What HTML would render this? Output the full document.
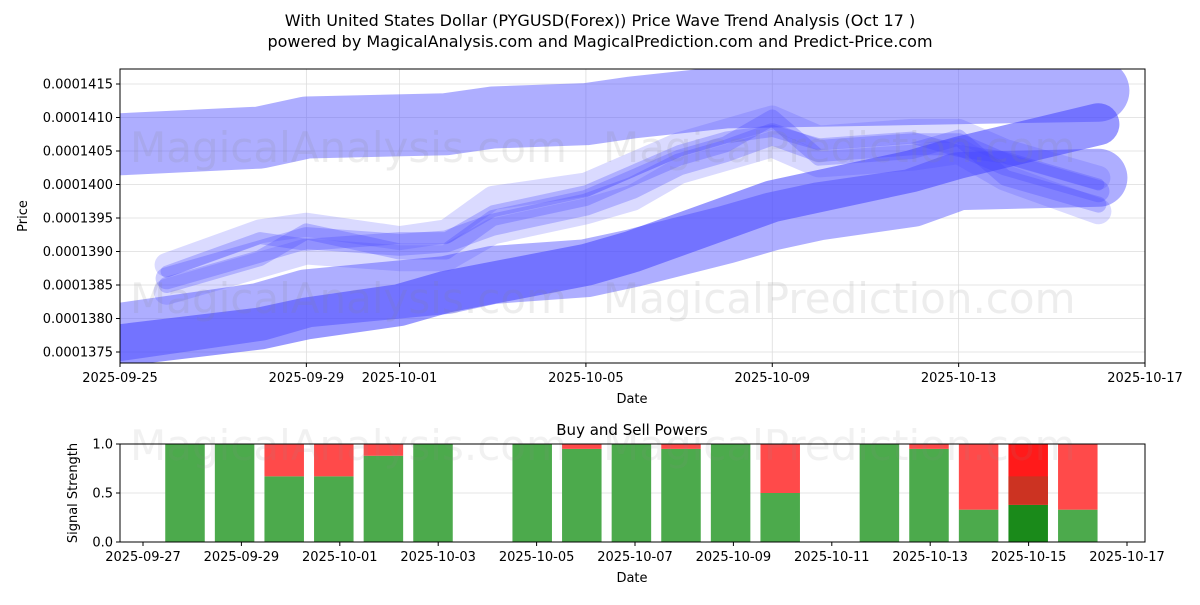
<!DOCTYPE html>
<html><head><meta charset="utf-8"><style>
body{margin:0;background:#fff;font-family:"Liberation Sans","DejaVu Sans",sans-serif}
svg text{font-family:"DejaVu Sans","Liberation Sans",sans-serif}
</style></head><body>
<svg id="c" width="1200" height="600" xmlns="http://www.w3.org/2000/svg">
<text x="600" y="26" text-anchor="middle" font-size="16">With United States Dollar (PYGUSD(Forex)) Price Wave Trend Analysis (Oct 17 )</text>
<text x="600" y="47" text-anchor="middle" font-size="16">powered by MagicalAnalysis.com and MagicalPrediction.com and Predict-Price.com</text>
</svg>
<script>
const tickDates=["2025-09-25","2025-09-29","2025-10-01","2025-10-05","2025-10-09","2025-10-13","2025-10-17"];
const priceTicks=[0.0001375,0.000138,0.0001385,0.000139,0.0001395,0.00014,0.0001405,0.000141,0.0001415];
const bandADates=["2025-09-25","2025-09-28","2025-09-29","2025-10-02","2025-10-03","2025-10-05","2025-10-06","2025-10-08","2025-10-16"];
const bandAVals=[0.0001406,0.0001407,0.00014085,0.0001409,0.000141,0.00014105,0.00014115,0.0001413,0.0001414];
const bandBDates=["2025-09-25","2025-09-28","2025-09-29","2025-10-02","2025-10-03","2025-10-05","2025-10-06","2025-10-08","2025-10-09","2025-10-10","2025-10-12","2025-10-13","2025-10-16"];
const bandBVals=[0.0001378,0.0001381,0.0001383,0.0001385,0.00013865,0.00013875,0.0001389,0.00013925,0.00013945,0.0001396,0.0001398,0.00014005,0.0001401];
const bandCDates=["2025-09-25","2025-09-28","2025-09-29","2025-10-01","2025-10-02","2025-10-05","2025-10-06","2025-10-08","2025-10-09","2025-10-12","2025-10-13","2025-10-16"];
const bandCVals=[0.0001376,0.00013785,0.000138,0.0001382,0.0001384,0.0001388,0.000139,0.0001395,0.00013975,0.0001402,0.0001404,0.0001409];
const waveDates=["2025-09-26","2025-09-28","2025-09-29","2025-10-01","2025-10-02","2025-10-03","2025-10-05","2025-10-06","2025-10-07","2025-10-08","2025-10-09","2025-10-10","2025-10-12","2025-10-13","2025-10-14","2025-10-16"];
const wave1=[0.0001386,0.000139,0.0001392,0.0001391,0.00013915,0.0001394,0.0001397,0.00013995,0.0001403,0.0001405,0.00014075,0.0001405,0.0001406,0.0001406,0.0001403,0.0001399];
const wave2=[0.0001385,0.0001389,0.0001393,0.000139,0.000139,0.0001395,0.0001398,0.0001401,0.0001404,0.0001406,0.000141,0.0001404,0.0001405,0.0001407,0.0001401,0.0001397];
const wave3=[0.0001387,0.0001392,0.0001391,0.0001392,0.0001392,0.0001396,0.0001399,0.0001402,0.0001405,0.0001407,0.0001408,0.0001406,0.0001407,0.0001405,0.0001404,0.00014];
const wave4=[0.0001384,0.0001388,0.000139,0.0001389,0.0001389,0.0001393,0.0001396,0.0001398,0.0001402,0.0001404,0.0001406,0.0001403,0.0001404,0.0001405,0.0001401,0.0001396];
const wave5=[0.0001388,0.0001393,0.0001394,0.0001392,0.0001393,0.0001398,0.00014,0.0001403,0.0001406,0.0001408,0.000141,0.0001407,0.0001408,0.0001408,0.0001405,0.0001401];
const barDates=["2025-09-28","2025-09-29","2025-09-30","2025-10-01","2025-10-02","2025-10-03","2025-10-05","2025-10-06","2025-10-07","2025-10-08","2025-10-09","2025-10-10","2025-10-12","2025-10-13","2025-10-14","2025-10-15","2025-10-16"];
const buyVals=[1,1,0.67,0.67,0.88,1,1,0.95,1,0.95,1,0.5,1,0.95,0.33,0.38,0.33];
const barTicks=["2025-09-27","2025-09-29","2025-10-01","2025-10-03","2025-10-05","2025-10-07","2025-10-09","2025-10-11","2025-10-13","2025-10-15","2025-10-17"];
const sigTicks=[0,0.5,1];

const NS="http://www.w3.org/2000/svg",svg=document.getElementById('c');
const day=d=>Date.parse(d)/864e5;
const X0=120,X1=1145,Y0=69,Y1=363;
const xT=d=>X0+(day(d)-day("2025-09-25"))/22*(X1-X0);
const yT=v=>84+(0.0001415-v)/4e-6*268;
const BX0=120,BX1=1145,BY0=444,BY1=542;
const xB=d=>143+(day(d)-day("2025-09-27"))/20*(1127-143);
const xBar=d=>185+(day(d)-day("2025-09-28"))*49.6;
const yB=v=>BY1-v*(BY1-BY0);
function el(t,a,p){const e=document.createElementNS(NS,t);for(const k in a)e.setAttribute(k,a[k]);(p||svg).appendChild(e);return e;}
for(const d of tickDates){const x=xT(d);
 const g=el('line',{x1:x,x2:x,y1:Y0,y2:Y1,stroke:'#ddd','stroke-width':0.8});
 
 el('line',{x1:x,x2:x,y1:Y1,y2:Y1+4,stroke:'#000'});
 const t=el('text',{x:x,y:Y1+19,'text-anchor':'middle','font-size':13});t.textContent=d;
 }
for(const v of priceTicks){const y=yT(v);
 el('line',{x1:X0,x2:X1,y1:y,y2:y,stroke:'#ddd','stroke-width':0.8});
 el('line',{x1:X0-4,x2:X0,y1:y,y2:y,stroke:'#000'});
 const t=el('text',{x:X0-7,y:y+4.5,'text-anchor':'end','font-size':13});t.textContent=v.toFixed(7);
 }
const wm=[["MagicalAnalysis.com",130,162],["MagicalPrediction.com",603,162],["MagicalAnalysis.com",130,313],["MagicalPrediction.com",603,313],["MagicalAnalysis.com",130,460],["MagicalPrediction.com",603,460]];
const defs=el('defs',{});const cp=el('clipPath',{id:'cp'},defs);el('rect',{x:X0,y:Y0,width:X1-X0,height:Y1-Y0},cp);
const G=el('g',{'clip-path':'url(#cp)'});
function band(dates,vals,w,color,op,name){
 const p=el('polyline',{points:dates.map((d,i)=>xT(d)+','+yT(vals[i])).join(' '),fill:'none',stroke:color,'stroke-width':w,'stroke-opacity':op,'stroke-linecap':'round','stroke-linejoin':'round'},G);
 }
band(bandADates,bandAVals,62,'#5555ff',0.48,'wave-band-upper');
band(bandBDates,bandBVals,58,'#5555ff',0.48,'wave-band-lower');
band(bandCDates,bandCVals,42,'#4444ff',0.55,'wave-band-trend');
band(waveDates,wave4,26,'#4444ff',0.2,'wave-line-4');
band(waveDates,wave5,24,'#4444ff',0.2,'wave-line-5');
band(waveDates,wave1,22,'#4444ff',0.28,'wave-line-1');
band(waveDates,wave2,16,'#4444ff',0.28,'wave-line-2');
band(waveDates,wave3,12,'#4444ff',0.28,'wave-line-3');
for(const [s,x,y] of wm.slice(0,4)){const t=el('text',{x:x,y:y,'font-size':42,fill:'#888','fill-opacity':0.15});t.textContent=s;
 }
el('rect',{x:X0,y:Y0,width:X1-X0,height:Y1-Y0,fill:'none',stroke:'#000','stroke-width':1});
let t=el('text',{x:632,y:403,'text-anchor':'middle','font-size':13});t.textContent='Date';
t=el('text',{x:27,y:216,'text-anchor':'middle','font-size':13,transform:'rotate(-90 27 216)'});t.textContent='Price';
for(const v of sigTicks){const y=yB(v);
 el('line',{x1:BX0,x2:BX1,y1:y,y2:y,stroke:'#ddd','stroke-width':0.8});
 el('line',{x1:BX0-4,x2:BX0,y1:y,y2:y,stroke:'#000'});
 const s=el('text',{x:BX0-7,y:y+4.5,'text-anchor':'end','font-size':13});s.textContent=v.toFixed(1);
 }
const bw=39.5;
barDates.forEach((d,i)=>{const x=xBar(d)-bw/2,b=buyVals[i];
 const special=d==="2025-10-15";
 const g=el('rect',{x:x,y:yB(b),width:bw,height:yB(0)-yB(b),fill:special?'#1a8a1a':'#4caa4c'});
 
 const r=el('rect',{x:x,y:yB(1),width:bw,height:yB(b)-yB(1),fill:special?'#ff1a1a':'#ff4a4a'});
 
 if(special){const o=el('rect',{x:x,y:yB(0.67),width:bw,height:yB(b)-yB(0.67),fill:'#cc3322'});}
});
for(const [s,x,y] of wm.slice(4)){const w=el('text',{x:x,y:y,'font-size':42,fill:'#888','fill-opacity':0.12});w.textContent=s;
 }
for(const d of barTicks){const x=xB(d);
 el('line',{x1:x,x2:x,y1:BY1,y2:BY1+4,stroke:'#000'});
 const s=el('text',{x:x,y:BY1+19,'text-anchor':'middle','font-size':13});s.textContent=d;
 }
el('rect',{x:BX0,y:BY0,width:BX1-BX0,height:BY1-BY0,fill:'none',stroke:'#000','stroke-width':1});
t=el('text',{x:632,y:435,'text-anchor':'middle','font-size':15});t.textContent='Buy and Sell Powers';
t=el('text',{x:632,y:582,'text-anchor':'middle','font-size':13});t.textContent='Date';
t=el('text',{x:77,y:493,'text-anchor':'middle','font-size':13,transform:'rotate(-90 77 493)'});t.textContent='Signal Strength';
</script>
</body></html>
